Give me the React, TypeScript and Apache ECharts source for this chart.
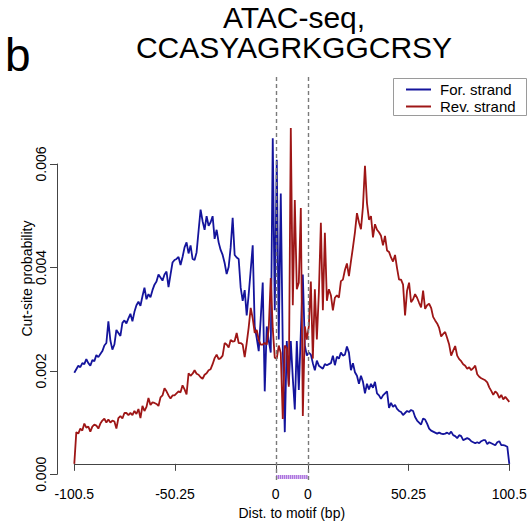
import React, { useEffect, useRef } from "react";
import * as echarts from "echarts";

const titleText = "ATAC-seq,\nCCASYAGRKGGCRSY";
const panelLabel = "b";
const seriesNames = ["For. strand", "Rev. strand"];
const xAxisTitle = "Dist. to motif (bp)";
const yAxisTitle = "Cut-site probability";
const xTickPositions = [-100.5, -50.25, 0, 16, 66.25, 116.5];
const xTickLabels = ["-100.5", "-50.25", "0", "0", "50.25", "100.5"];
const motifEdges = [0, 16];
const motifPositions = [0.5, 1.5, 2.5, 3.5, 4.5, 5.5, 6.5, 7.5, 8.5, 9.5, 10.5, 11.5, 12.5, 13.5, 14.5, 15.5];
const positions = Array.from({ length: 218 }, (_, i) => -100.5 + i);

const forStrand = [
  0.00181, 0.00188, 0.00195, 0.00192, 0.00200, 0.00198, 0.00208, 0.00200, 0.00195, 0.00206,
  0.00204, 0.00216, 0.00212, 0.00218, 0.00224, 0.00235, 0.00240, 0.00283, 0.00245, 0.00227,
  0.00237, 0.00266, 0.00260, 0.00254, 0.00280, 0.00285, 0.00279, 0.00289, 0.00298, 0.00283,
  0.00302, 0.00315, 0.00322, 0.00314, 0.00333, 0.00350, 0.00327, 0.00337, 0.00331, 0.00345,
  0.00356, 0.00362, 0.00376, 0.00370, 0.00364, 0.00376, 0.00382, 0.00351, 0.00376, 0.00400,
  0.00405, 0.00407, 0.00411, 0.00395, 0.00411, 0.00430, 0.00440, 0.00418, 0.00434, 0.00407,
  0.00405, 0.00420, 0.00463, 0.00505, 0.00482, 0.00465, 0.00492, 0.00473, 0.00480, 0.00492,
  0.00447, 0.00465, 0.00440, 0.00425, 0.00415, 0.00399, 0.00377, 0.00391, 0.00430, 0.00489,
  0.00415, 0.00410, 0.00407, 0.00350, 0.00324, 0.00345, 0.00295, 0.00337, 0.00385, 0.00434,
  0.00273, 0.00250, 0.00224, 0.00289, 0.00360, 0.00144, 0.00273, 0.00245, 0.00221, 0.00647,
  0.00305, 0.00604, 0.00247, 0.00537, 0.00230, 0.00063, 0.00244, 0.00157, 0.00244, 0.00170,
  0.00108, 0.00244, 0.00147, 0.00260, 0.00376, 0.00235, 0.00215, 0.00221, 0.00217, 0.00200,
  0.00186, 0.00205, 0.00195, 0.00192, 0.00189, 0.00198, 0.00196, 0.00198, 0.00200, 0.00215,
  0.00196, 0.00213, 0.00209, 0.00221, 0.00215, 0.00217, 0.00233, 0.00221, 0.00186, 0.00200,
  0.00182, 0.00175, 0.00159, 0.00175, 0.00163, 0.00140, 0.00159, 0.00148, 0.00159, 0.00151,
  0.00163, 0.00140, 0.00136, 0.00129, 0.00136, 0.00140, 0.00144, 0.00111, 0.00121, 0.00113,
  0.00117, 0.00109, 0.00105, 0.00103, 0.00097, 0.00101, 0.00105, 0.00103, 0.00107, 0.00105,
  0.00093, 0.00086, 0.00082, 0.00078, 0.00090, 0.00088, 0.00080, 0.00070, 0.00066, 0.00064,
  0.00062, 0.00060, 0.00062, 0.00060, 0.00059, 0.00060, 0.00062, 0.00059, 0.00064, 0.00057,
  0.00055, 0.00051, 0.00057, 0.00055, 0.00047, 0.00049, 0.00051, 0.00049, 0.00045, 0.00043,
  0.00041, 0.00043, 0.00041, 0.00045, 0.00047, 0.00047, 0.00039, 0.00043, 0.00041, 0.00039,
  0.00037, 0.00043, 0.00045, 0.00037, 0.00037, 0.00036, 0.00034, 0.00000,
];

const revStrand = [
  0.00000, 0.00063, 0.00060, 0.00070, 0.00066, 0.00080, 0.00072, 0.00074, 0.00064, 0.00074,
  0.00078, 0.00076, 0.00070, 0.00080, 0.00086, 0.00090, 0.00082, 0.00088, 0.00082, 0.00086,
  0.00084, 0.00070, 0.00091, 0.00095, 0.00090, 0.00101, 0.00101, 0.00097, 0.00101, 0.00097,
  0.00105, 0.00099, 0.00109, 0.00091, 0.00115, 0.00105, 0.00113, 0.00131, 0.00117, 0.00122,
  0.00121, 0.00119, 0.00115, 0.00132, 0.00136, 0.00150, 0.00144, 0.00136, 0.00130, 0.00136,
  0.00136, 0.00140, 0.00144, 0.00142, 0.00156, 0.00148, 0.00138, 0.00180, 0.00175, 0.00179,
  0.00186, 0.00179, 0.00177, 0.00172, 0.00169, 0.00177, 0.00180, 0.00186, 0.00188, 0.00198,
  0.00210, 0.00217, 0.00208, 0.00210, 0.00215, 0.00240, 0.00237, 0.00231, 0.00246, 0.00243,
  0.00244, 0.00260, 0.00240, 0.00240, 0.00237, 0.00212, 0.00240, 0.00271, 0.00310, 0.00289,
  0.00260, 0.00266, 0.00246, 0.00237, 0.00237, 0.00240, 0.00237, 0.00269, 0.00369, 0.00269,
  0.00211, 0.00209, 0.00235, 0.00220, 0.00089, 0.00235, 0.00230, 0.00153, 0.00667, 0.00315,
  0.00524, 0.00347, 0.00360, 0.00508, 0.00095, 0.00273, 0.00247, 0.00273, 0.00362, 0.00209,
  0.00347, 0.00247, 0.00340, 0.00479, 0.00305, 0.00459, 0.00324, 0.00347, 0.00335, 0.00305,
  0.00330, 0.00335, 0.00330, 0.00363, 0.00366, 0.00385, 0.00398, 0.00373, 0.00402, 0.00430,
  0.00460, 0.00498, 0.00480, 0.00466, 0.00511, 0.00592, 0.00518, 0.00485, 0.00492, 0.00450,
  0.00476, 0.00465, 0.00460, 0.00453, 0.00434, 0.00453, 0.00424, 0.00421, 0.00410, 0.00402,
  0.00415, 0.00389, 0.00366, 0.00366, 0.00356, 0.00295, 0.00344, 0.00360, 0.00321, 0.00327,
  0.00337, 0.00330, 0.00320, 0.00311, 0.00344, 0.00308, 0.00315, 0.00318, 0.00310, 0.00292,
  0.00285, 0.00279, 0.00270, 0.00253, 0.00258, 0.00262, 0.00250, 0.00237, 0.00215, 0.00225,
  0.00234, 0.00215, 0.00208, 0.00204, 0.00198, 0.00195, 0.00189, 0.00192, 0.00186, 0.00190,
  0.00195, 0.00178, 0.00173, 0.00170, 0.00168, 0.00166, 0.00162, 0.00152, 0.00145, 0.00137,
  0.00144, 0.00140, 0.00131, 0.00137, 0.00128, 0.00133, 0.00128, 0.00123,
];

const FONT = "'Liberation Sans', Arial, Helvetica, sans-serif";
const BLUE = "#14149c";
const RED = "#9e1616";

export default function App() {
  const ref = useRef<HTMLDivElement>(null);

  useEffect(() => {
    if (!ref.current) return;
    const chart = echarts.init(ref.current, null, { renderer: "svg" });
    const tickLabel = (v: number) => {
      const k = xTickPositions.findIndex((p) => Math.abs(p - v) < 1e-6);
      return k >= 0 ? xTickLabels[k] : "";
    };
    chart.setOption({
      animation: false,
      backgroundColor: "#ffffff",
      title: {
        text: titleText,
        left: 289,
        top: -3,
        textAlign: "center",
        textStyle: { fontFamily: FONT, fontSize: 30, fontWeight: "normal", color: "#000", lineHeight: 30 },
      },
      legend: {
        data: seriesNames,
        orient: "vertical",
        left: 406,
        top: 82,
        icon: "rect",
        itemWidth: 25,
        itemHeight: 2,
        itemGap: 2,
        padding: 0,
        textStyle: { fontFamily: FONT, fontSize: 15, color: "#000", lineHeight: 15, padding: [0, 0, 0, 4] },
      },
      graphic: [
        {
          type: "rect",
          shape: { x: 393.5, y: 78.5, width: 133, height: 37 },
          style: { fill: "none", stroke: "#9a9a9a", lineWidth: 1 },
          silent: true,
        },
        {
          type: "text",
          x: 5,
          y: 55,
          style: { text: panelLabel, font: `46px ${FONT}`, fill: "#000", verticalAlign: "middle" },
          silent: true,
        },
      ],
      grid: [
        { left: 74.3, right: 20.7, top: 77, bottom: 34 },
        { left: 57, width: 10, top: 164, bottom: 50.7 },
      ],
      xAxis: [
        {
          gridIndex: 0,
          type: "value",
          min: -100.5,
          max: 116.5,
          position: "bottom",
          axisLine: { show: true, lineStyle: { color: "#444", width: 1 } },
          axisTick: { show: true, length: 7, customValues: xTickPositions, lineStyle: { color: "#444", width: 1 } },
          axisLabel: {
            customValues: xTickPositions,
            formatter: tickLabel,
            fontFamily: FONT,
            fontSize: 14,
            color: "#000",
            margin: 7,
          },
          splitLine: { show: false },
          name: xAxisTitle,
          nameLocation: "middle",
          nameGap: 15,
          nameTextStyle: { fontFamily: FONT, fontSize: 14, color: "#000" },
        },
        { gridIndex: 1, type: "value", show: false, min: 0, max: 1 },
      ],
      yAxis: [
        {
          gridIndex: 0,
          type: "value",
          min: -0.000323,
          max: 0.007685,
          axisLine: { show: false },
          axisTick: { show: false },
          axisLabel: { show: false },
          splitLine: { show: false },
          name: yAxisTitle,
          nameLocation: "middle",
          nameGap: 40,
          nameTextStyle: { fontFamily: FONT, fontSize: 14, color: "#000" },
        },
        {
          gridIndex: 1,
          type: "value",
          position: "left",
          min: 0,
          max: 0.006,
          interval: 0.002,
          axisLine: { show: true, lineStyle: { color: "#444", width: 1 } },
          axisTick: { show: true, length: 7, lineStyle: { color: "#444", width: 1 } },
          axisLabel: {
            rotate: 90,
            margin: 9,
            formatter: (v: number) => v.toFixed(3),
            fontFamily: FONT,
            fontSize: 14,
            color: "#000",
          },
          splitLine: { show: false },
        },
      ],
      series: [
        {
          type: "line",
          name: seriesNames[0],
          xAxisIndex: 0,
          yAxisIndex: 0,
          data: positions.map((p, i) => [p, forStrand[i]]),
          symbol: "none",
          lineStyle: { color: BLUE, width: 1.8 },
          itemStyle: { color: BLUE },
          markLine: {
            silent: true,
            symbol: ["none", "none"],
            label: { show: false },
            lineStyle: { type: [4, 3], color: "#7a7a7a", width: 1.4 },
            data: motifEdges.map((x) => ({ xAxis: x })),
          },
        },
        {
          type: "line",
          name: seriesNames[1],
          xAxisIndex: 0,
          yAxisIndex: 0,
          data: positions.map((p, i) => [p, revStrand[i]]),
          symbol: "none",
          lineStyle: { color: RED, width: 1.8 },
          itemStyle: { color: RED },
        },
        {
          type: "custom",
          xAxisIndex: 0,
          yAxisIndex: 0,
          silent: true,
          data: motifPositions.map((p) => [p, 0]),
          renderItem: (params: any, api: any) => {
            const pt = api.coord([api.value(0), 0]);
            const cs = params.coordSys;
            const yb = cs.y + cs.height - 1;
            return {
              type: "line",
              shape: { x1: pt[0], y1: yb, x2: pt[0], y2: yb - 4 },
              style: { stroke: "#9b55d8", lineWidth: 1.2 },
            };
          },
        },
      ],
    });
    return () => chart.dispose();
  }, []);

  return (
    <div
      ref={ref}
      style={{ position: "fixed", left: 0, top: 0, width: 530, height: 525, background: "#fff" }}
    />
  );
}
